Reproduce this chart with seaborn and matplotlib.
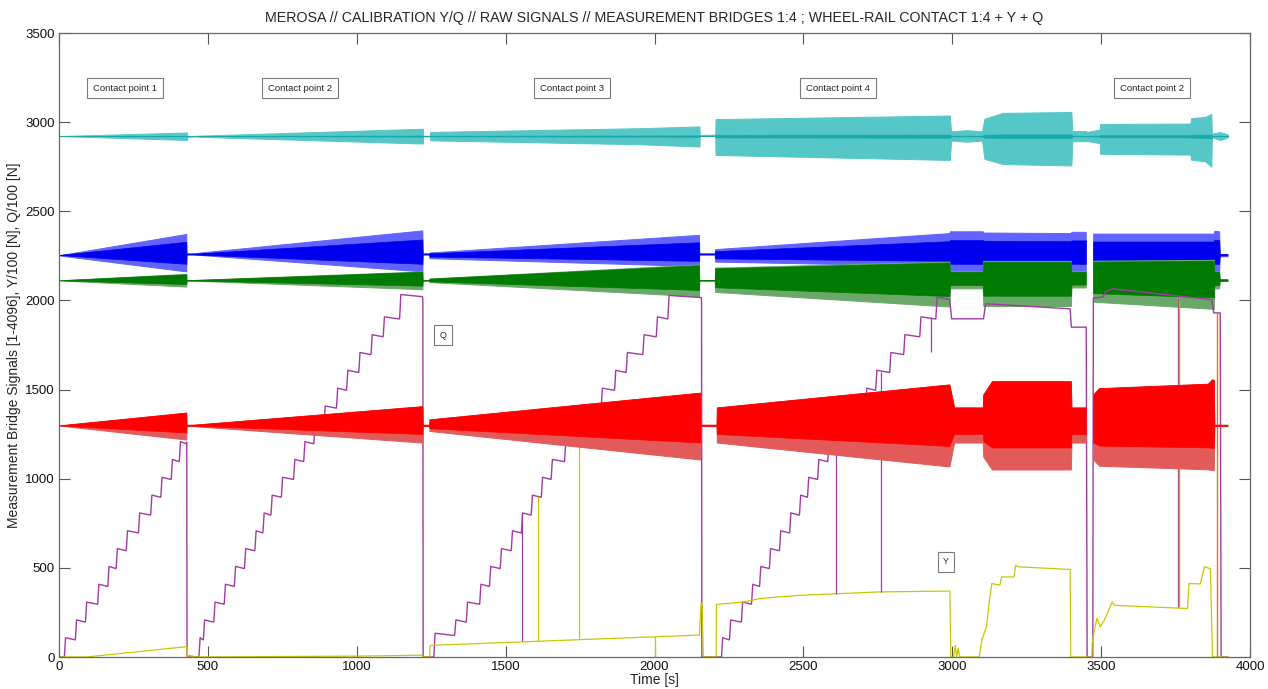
import numpy as np
import pandas as pd
import matplotlib
matplotlib.use("Agg")
import matplotlib.pyplot as plt
import seaborn as sns

# ---------------- data ----------------
# Envelopes of the four bridge signals (time [s], upper, lower)
cyan_t = [0, 430, 431, 465, 466, 1222, 1223, 1246, 1247, 1950, 2151, 2152, 2204, 2205, 2992, 2996,
          3050, 3100, 3108, 3170, 3400, 3403, 3450, 3452, 3495, 3497, 3800, 3802, 3850, 3870, 3872,
          3900, 3926]
cyan_up = [2922, 2942, 2922, 2924, 2924, 2963, 2924, 2924, 2945, 2966, 2976, 2928, 2930, 3017, 3037, 2948,
           2955, 2948, 3019, 3052, 3057, 2950, 2950, 2945, 2958, 2990, 2992, 3022, 3030, 3046, 2935,
           2945, 2930]
cyan_lo = [2922, 2900, 2918, 2920, 2918, 2880, 2920, 2920, 2898, 2876, 2863, 2924, 2926, 2816, 2788, 2897,
           2890, 2897, 2794, 2765, 2757, 2893, 2893, 2895, 2882, 2822, 2818, 2790, 2780, 2750, 2915,
           2900, 2915]

blue_t = [0, 429, 430, 452, 453, 1222, 1223, 1245, 1246, 2151, 2152, 2204, 2205, 2992, 2994, 3104,
          3106, 3400, 3402, 3450, 3451, 3474, 3475, 3880, 3882, 3898, 3900, 3926]
blue_up = [2250, 2370, 2262, 2262, 2262, 2390, 2262, 2262, 2266, 2365, 2262, 2262, 2285, 2375, 2385, 2385,
           2378, 2375, 2382, 2382, np.nan, np.nan, 2372, 2372, 2388, 2385, 2258, 2258]
blue_lo = [2250, 2160, 2255, 2255, 2255, 2160, 2255, 2255, 2234, 2190, 2255, 2255, 2215, 2190, 2160, 2160,
           2190, 2190, 2160, 2160, np.nan, np.nan, 2195, 2190, 2160, 2160, 2245, 2245]

green_t = [0, 429, 430, 452, 453, 1222, 1223, 1245, 1246, 2151, 2152, 2204, 2205, 2992, 2994, 3104,
           3106, 3400, 3402, 3450, 3451, 3474, 3475, 3880, 3882, 3898, 3900, 3926]
green_up = [2110, 2146, 2112, 2112, 2112, 2160, 2112, 2112, 2120, 2199, 2112, 2112, 2181, 2215, 2160, 2160,
            2219, 2219, 2160, 2160, np.nan, np.nan, 2220, 2225, 2160, 2160, 2116, 2116]
green_lo = [2110, 2075, 2108, 2108, 2108, 2060, 2108, 2108, 2100, 2020, 2108, 2108, 2045, 1963, 2065, 2065,
            1966, 1966, 2070, 2070, np.nan, np.nan, 1990, 1950, 2065, 2065, 2106, 2106]

red_t = [0, 429, 430, 452, 453, 1222, 1223, 1245, 1246, 2155, 2156, 2210, 2211, 2992, 3008, 3104,
         3106, 3135, 3400, 3402, 3450, 3451, 3474, 3475, 3495, 3860, 3875, 3880, 3882, 3926]
red_up = [1296, 1368, 1300, 1300, 1300, 1404, 1300, 1300, 1330, 1480, 1300, 1300, 1397, 1526, 1397, 1397,
          1470, 1544, 1544, 1397, 1397, np.nan, np.nan, 1470, 1505, 1530, 1555, 1550, 1300, 1300]
red_lo = [1296, 1217, 1292, 1292, 1292, 1200, 1292, 1292, 1265, 1105, 1292, 1292, 1200, 1066, 1200, 1200,
          1120, 1049, 1049, 1200, 1200, np.nan, np.nan, 1105, 1070, 1050, 1045, 1045, 1292, 1292]

centers = {"cyan": 2922, "blue": 2255, "green": 2110, "red": 1296}

# Q/100 staircase: step start times and levels per calibration run
q1_t = [18, 55, 89, 130, 164, 192, 226, 267, 308, 342, 377, 404]
q1_v = [100, 200, 300, 400, 500, 600, 700, 800, 900, 1000, 1100, 1200]
q1_end = (429, 1205)
q2_t = [470, 485, 520, 555, 589, 623, 658, 685, 712, 747, 788, 822, 856, 890, 932, 966, 1007, 1048,
        1089, 1144]
q2_v = [100, 200, 300, 400, 500, 600, 700, 800, 900, 1000, 1100, 1200, 1300, 1400, 1500, 1600, 1700,
        1800, 1900, 2025]
q2_end = (1222, 1995)
q3_t = [1259, 1329, 1368, 1413, 1446, 1482, 1519, 1553, 1586, 1620, 1653, 1698, 1743, 1782, 1821, 1866,
        1905, 1961, 2006, 2045]
q3_v = [125, 200, 300, 400, 500, 600, 700, 800, 900, 1000, 1100, 1200, 1300, 1400, 1500, 1600, 1700,
        1800, 1900, 2020]
q3_end = (2158, 1992)
q4_t = [2225, 2252, 2292, 2326, 2353, 2386, 2420, 2454, 2487, 2514, 2548, 2582, 2615, 2660, 2709, 2743,
        2790, 2837, 2891, 2945]
q4_v = [100, 200, 300, 400, 500, 600, 700, 800, 900, 1000, 1100, 1200, 1300, 1400, 1500, 1600, 1700,
        1800, 1900, 2010]
q4_tail_t = [2992, 2998, 3105, 3112, 3396, 3400, 3450, 3453]
q4_tail_v = [1995, 1897, 1897, 1981, 1953, 1850, 1850, 0]
q6_t = [3472, 3474, 3507, 3515, 3540, 3872, 3878, 3900, 3903, 3926]
q6_v = [0, 2013, 2020, 2050, 2065, 2004, 1930, 1930, 0, 0]

# Q glitches (vertical spikes)
qg_t = [1556, 2608, 2760, 2930, 3757]
qg_hi = [800, 1200, 1600, 1900, 2010]
qg_lo = [90, 355, 366, 1710, 280]

# Y/100 line
y_t = [0, 92, 429, 431, 436, 460, 470, 1000, 1220, 1222, 1245, 1246, 2151, 2156, 2160, 2164, 2207,
       2208, 2299, 2353, 2487, 2756, 2992, 2995, 3005, 3010, 3015, 3020, 3025, 3090, 3100, 3115, 3125,
       3133, 3160, 3166, 3207, 3213, 3220, 3396, 3398, 3469, 3470, 3476, 3486, 3497, 3511, 3537, 3545,
       3790, 3795, 3833, 3847, 3867, 3874, 3926]
y_v = [0, 0, 58, 0, 10, 0, 0, 5, 10, 0, 0, 65, 123, 300, 300, 0, 0,
       295, 308, 328, 346, 365, 370, 0, 0, 65, 0, 50, 0, 0, 100, 170, 318,
       412, 403, 449, 449, 515, 506, 491, 0, 0, 78, 142, 217, 170, 207, 309, 290,
       272, 412, 410, 506, 495, 0, 0]

# Y glitches
yg_t = [1608, 1748, 2003]
yg_lo = [90, 100, 0]
yg_hi = [905, 1320, 118]
og_t = [3763, 3889]
og_lo = [280, 0]
og_hi = [2005, 1930]

labels_text = ["Contact point 1", "Contact point 2", "Contact point 3", "Contact point 4", "Contact point 2"]
labels_t = [222, 809, 1723, 2616, 3671]
labels_v = [3191, 3191, 3191, 3191, 3191]
marks_text = ["Q", "Y"]
marks_t = [1290, 2979]
marks_v = [1806, 533]

# ---------------- build Q polyline from step data ----------------
def staircase(times, levels, end):
    xs, ys = [], []
    prev = 0
    for i, (t, l) in enumerate(zip(times, levels)):
        nxt = times[i + 1] if i + 1 < len(times) else end[0]
        xs += [t, t + 4, nxt - 1]
        ys += [prev, l + 8, l - 4]
        prev = l
    xs += [end[0], end[0] + 1]
    ys += [end[1], 0]
    return xs, ys

qx, qy = [0], [0]
for tt, vv, ee in [(q1_t, q1_v, q1_end), (q2_t, q2_v, q2_end), (q3_t, q3_v, q3_end), (q4_t, q4_v, None)]:
    if ee is None:
        ee = (q4_tail_t[0], q4_tail_v[0])
        sx, sy = staircase(tt, vv, ee)
        sx, sy = sx[:-1], sy[:-1]
    else:
        sx, sy = staircase(tt, vv, ee)
    qx += sx
    qy += sy
qx += q4_tail_t + q6_t
qy += q4_tail_v + q6_v
q_df = pd.DataFrame({"t": qx, "v": qy})
y_df = pd.DataFrame({"t": y_t, "v": y_v})

# ---------------- plotting ----------------
sns.set_style("ticks")
plt.rcParams["font.family"] = ["Liberation Sans", "DejaVu Sans"]

fig = plt.figure(figsize=(12.68, 6.89), dpi=100)
ax = fig.add_axes([59 / 1268, 1 - 657 / 689, (1250 - 59) / 1268, (657 - 33) / 689])

def band(t, up, lo, c0, outer, core, fu, fl, z):
    t = np.asarray(t, float)
    up = np.asarray(up, float)
    lo = np.asarray(lo, float)
    ax.fill_between(t, lo, up, color=outer, lw=0.7, zorder=z)
    cu = c0 + fu * (up - c0)
    cl = c0 + fl * (lo - c0)
    ax.fill_between(t, cl, cu, color=core, lw=0.5, zorder=z + 0.1)

band(cyan_t, cyan_up, cyan_lo, centers["cyan"], "#55c7c7", "#1aa9a9", 0.07, 0.07, 1)
band(blue_t, blue_up, blue_lo, centers["blue"], "#6262ff", "#0000ee", 0.62, 0.55, 1)
band(green_t, green_up, green_lo, centers["green"], "#6aa86a", "#007a00", 0.95, 0.6, 1.5)

q_col = "#a33aa3"
y_col = "#c8c800"
sns.lineplot(data=q_df, x="t", y="v", sort=False, estimator=None, color=q_col, lw=1.0, ax=ax, zorder=2)
sns.lineplot(data=y_df, x="t", y="v", sort=False, estimator=None, color=y_col, lw=0.9, ax=ax, zorder=2)
ax.vlines(qg_t, qg_lo, qg_hi, color=q_col, lw=0.9, zorder=2)
ax.vlines(yg_t, yg_lo, yg_hi, color=y_col, lw=0.9, zorder=2)
ax.vlines(og_t, og_lo, og_hi, color=["#d4a800", "#e07a00"], lw=1.0, zorder=2)

band(red_t, red_up, red_lo, centers["red"], "#e25a5a", "#ff0000", 1.0, 0.5, 3)

box = dict(boxstyle="square,pad=0.62", fc="white", ec="#7a7a7a", lw=0.8)
for s, t, v in zip(labels_text, labels_t, labels_v):
    ax.text(t, v, s, fontsize=6.8, ha="center", va="center", bbox=box, zorder=5)
for s, t, v in zip(marks_text, marks_t, marks_v):
    ax.text(t, v, s, fontsize=6.4, ha="center", va="center", bbox=box, zorder=5)

ax.set_xlim(0, 4000)
ax.set_ylim(0, 3500)
ax.set_xticks(np.arange(0, 4001, 500))
ax.set_yticks(np.arange(0, 3501, 500))
ax.tick_params(direction="in", length=8, width=0.8, color="#555555", top=True, right=True,
               labelsize=9.5, pad=3, labelcolor="#111111")
for sp in ax.spines.values():
    sp.set_color("#666666")
    sp.set_linewidth(0.9)
ax.set_xlabel("Time [s]", fontsize=10, labelpad=0)
ax.set_ylabel("Measurement Bridge Signals [1-4096], Y/100 [N], Q/100 [N]", fontsize=10, labelpad=3)
ax.set_title("MEROSA // CALIBRATION Y/Q // RAW SIGNALS // MEASUREMENT BRIDGES 1:4 ; WHEEL-RAIL CONTACT 1:4 + Y + Q",
             fontsize=10.3, pad=8)
ax.grid(False)
fig.savefig("out.png", dpi=100)
